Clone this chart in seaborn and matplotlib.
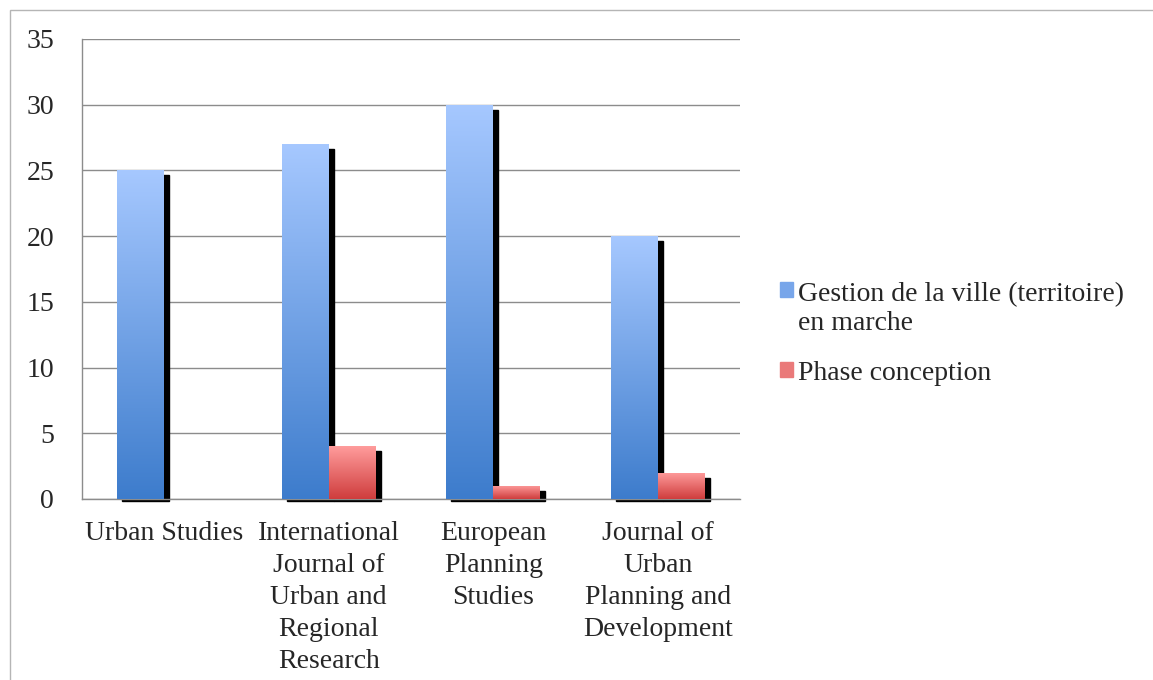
import numpy as np
import pandas as pd
import seaborn as sns
import matplotlib.pyplot as plt
from matplotlib.patches import Rectangle
from matplotlib.colors import LinearSegmentedColormap
from matplotlib.legend_handler import HandlerPatch

journals = ["Urban Studies",
            "International\nJournal of\nUrban and\nRegional\nResearch",
            "European\nPlanning\nStudies",
            "Journal of\nUrban\nPlanning and\nDevelopment"]
series_names = ["Gestion de la ville (territoire)\nen marche", "Phase conception"]
gestion = [25, 27, 30, 20]
conception = [0, 4, 1, 2]
y_ticks = [0, 5, 10, 15, 20, 25, 30, 35]

df = pd.DataFrame({
    "journal": journals * 2,
    "value": gestion + conception,
    "series": [series_names[0]] * 4 + [series_names[1]] * 4,
})

sns.set_style("white")
plt.rcParams["font.family"] = ["Liberation Serif", "DejaVu Serif"]

fig = plt.figure(figsize=(11.53, 6.8), dpi=100)
ax = fig.add_axes([0.0711, 0.2662, 0.5707, 0.6765])

colors = ["#6a9be0", "#e86a6a"]
sns.barplot(data=df, x="journal", y="value", hue="series", palette=colors,
            width=0.57, ax=ax, legend=False, zorder=3)

# gradient fill and dark drop shadow on each bar
grads = [LinearSegmentedColormap.from_list("b", ["#3d7ccc", "#a6c8ff"]),
         LinearSegmentedColormap.from_list("r", ["#cf3d3d", "#ff9c9c"])]
shift = 5 / 164.5
g = np.linspace(0, 1, 256).reshape(-1, 1)
for i, p in enumerate(list(ax.patches)):
    h = p.get_height()
    if h <= 0:
        p.set_visible(False)
        continue
    x0 = p.get_x()
    w = p.get_width()
    ax.add_patch(Rectangle((x0 + shift, -0.12), w, h - 0.25, color="black",
                           zorder=2, clip_on=False))
    cmap = grads[i // 4]
    im = ax.imshow(g, cmap=cmap, origin="lower", aspect="auto",
                   extent=(x0, x0 + w, 0, h), zorder=4)
    im.set_clip_path(p)
    p.set_facecolor("none")
    p.set_edgecolor("none")

ax.set_xlim(-0.5, 3.5)
ax.set_ylim(0, 35)
ax.set_yticks(y_ticks)
ax.yaxis.grid(True, color="#8c8c8c", linewidth=1, zorder=0)
ax.set_axisbelow(True)
ax.set_xlabel("")
ax.set_ylabel("")
for s in ["top", "right"]:
    ax.spines[s].set_visible(False)
for s in ["left", "bottom"]:
    ax.spines[s].set_color("#8c8c8c")
    ax.spines[s].set_linewidth(1)

ax.set_xticks([-0.5, 0.5, 1.5, 2.5, 3.5], minor=False)
ax.set_xticklabels([])
ax.set_xticks([0, 1, 2, 3], minor=True)
ax.set_xticklabels(journals, minor=True, fontsize=20, linespacing=1.37)
ax.tick_params(axis="x", which="major", length=7, color="#8c8c8c", width=1)
ax.tick_params(axis="x", which="minor", length=0, pad=16)
ax.tick_params(axis="y", length=7, color="#8c8c8c", width=1, labelsize=20, pad=13)


def top_line_patch(legend, orig_handle, xdescent, ydescent, width, height, fontsize):
    # put the square next to the first line of a two-line label
    return Rectangle((-xdescent, -ydescent + 0.7 * fontsize), width, height)


handles = [Rectangle((0, 0), 1, 1, color=c) for c in ["#78a6ea", "#ea7a7a"]]
fig.legend(handles, series_names, loc="center left",
           bbox_to_anchor=(0.655, 0.509), frameon=False, fontsize=20,
           handlelength=0.45, handleheight=0.45, handletextpad=0.2,
           labelspacing=0.9,
           handler_map={handles[0]: HandlerPatch(patch_func=top_line_patch)})

fig.add_artist(Rectangle((10 / 1153, -0.1), 1.2, 1.1 - 10 / 680,
                         transform=fig.transFigure, fill=False,
                         edgecolor="#b5b5b5", linewidth=1))

fig.savefig("out.png", dpi=100)
